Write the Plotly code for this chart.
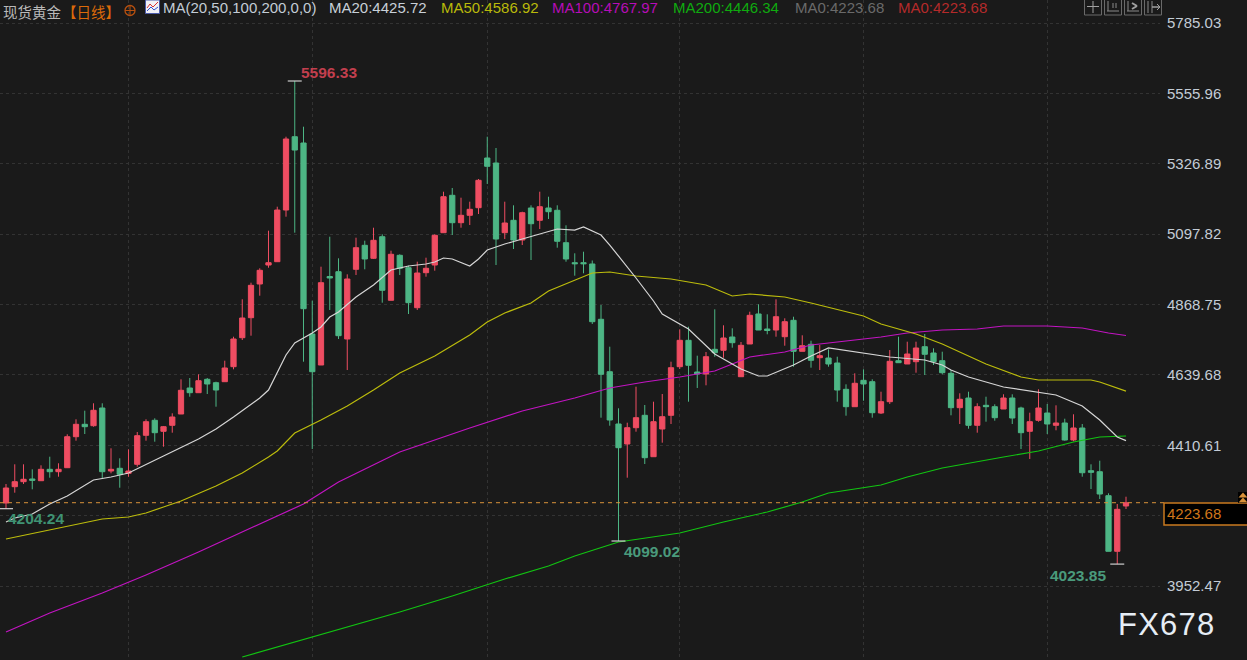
import plotly.graph_objects as go

opens = [4222.7,4275.8,4292.1,4300.9,4295.3,4332.4,4324.6,4337.6,4438.5,4478.9,
 4474.3,4532,4326.9,4335.7,4319.4,4348.7,4443.1,4491.9,4456.1,4475.6,
 4512.4,4597.1,4581.8,4625.4,4614.3,4617.6,4666.4,4760.8,4825.9,4935.6,
 4997.4,5008.2,5176.4,5415,5394.5,4772.8,4671.9,4960,4975.6,4756.6,
 4983.4,5061.5,5019.2,5089.5,4882.5,5029,4988.6,4858.4,4972.4,4997.4,
 5102.6,5224.3,5135.1,5159.2,5183.9,5345.7,5329.4,5102.6,5142.9,5078.8,
 5183,5142.9,5183,5175.5,5070,5004.9,5004.9,5000.7,4820.7,4650.1,
 4479.9,4414.8,4467.8,4508.2,4373.4,4463.6,4508.2,4666.4,4752.3,4649.1,
 4642.6,4723,4719.8,4763.1,4633.8,4740.3,4838,4789.1,4785.8,4764,
 4817.4,4716.5,4739.3,4695.7,4694.7,4678.4,4592.8,4536.2,4622.1,4617.6,
 4515.7,4552.5,4685.9,4675.2,4682.7,4731.5,4711,4685.9,4644.9,4533,
 4564.5,4475.6,4540.7,4536.2,4528.7,4564.5,4532,4456.1,4491.9,4515.7,
 4475.6,4483.1,4427.8,4466.9,4327.9,4324.6,4246.5,4065.5,4213]
closes = [4271.6,4292.1,4299.9,4296.6,4332.4,4324.6,4332.4,4438.5,4478.9,4471.1,
 4524.5,4324.6,4332.4,4316.2,4326.9,4441.8,4487.4,4451.6,4471.1,4502.7,
 4589.6,4581.8,4620.8,4610.1,4590.5,4662.2,4756.6,4824.9,4931.3,4980.2,
 5004.9,5176.4,5407.6,5371.7,4855.2,4650.1,4939.8,4955.1,4767.3,4951.9,
 5053.7,5017,5077.8,4915.1,5032.3,4986.7,4874.7,4971.4,4986.7,5094.1,
 5219.7,5135.1,5159.2,5178.7,5273.1,5318.7,5082,5134.1,5078.8,5167.7,
 5131.8,5187.2,5170.9,5074.6,5017,5001.6,5001.6,4812.9,4641.7,4492.9,
 4402.7,4467.8,4500.4,4370.2,4487.4,4503.6,4663.1,4752.3,4671,4642.6,
 4698.9,4712,4759.8,4744.5,4736,4833.7,4785.8,4784.2,4829.1,4812.9,
 4716.5,4734.7,4687.2,4702.2,4675.2,4590.5,4536.2,4612.4,4610.1,4516.7,
 4552.5,4684,4679.4,4707.7,4727.3,4706.8,4682.7,4646.9,4533,4560.3,
 4475.6,4536.2,4536.2,4500.4,4564.5,4499.4,4451.6,4487.4,4532,4479.9,
 4483.1,4427.8,4466.9,4321.3,4322.7,4252,4065.5,4202.2,4223.68]
highs = [4284.6,4348.7,4348.7,4332.4,4345.4,4373.4,4352,4446.4,4495.2,4523.2,
 4547.3,4547.3,4400.8,4368.2,4397.5,4453.8,4495.2,4498.4,4473.4,4514.7,
 4625.4,4629.6,4641.6,4629.6,4617.6,4685.9,4764,4885.8,4939.8,4986.7,
 5109.1,5187.2,5415,5596.33,5447.6,4881.2,4991.9,5089.5,5019.2,4967.1,
 5086.3,5076.5,5118.8,5097.4,5044,5032.3,4995.1,5008.2,5021.2,5097.4,
 5236,5248.1,5216.5,5203.5,5277.4,5415,5378.3,5203.5,5191.7,5170.9,
 5191.7,5236,5219.7,5191.7,5126.6,5035.5,5040.7,5012.1,4867.2,4731.5,
 4531,4484.1,4601.3,4541.7,4552.5,4577.5,4682.7,4788.1,4796.6,4702.2,
 4714.2,4853.2,4801.1,4791.4,4746.8,4845.4,4869.5,4837,4885.8,4823.9,
 4829.1,4768.6,4751,4737,4723,4698.9,4609.1,4644.9,4657.9,4625.4,
 4585,4720.7,4764,4747.8,4747.8,4772.8,4726.3,4715.2,4655.6,4579.8,
 4585,4547.3,4568.7,4544,4576.6,4576.6,4536.2,4516.7,4592.8,4545,
 4540.7,4497.1,4511.5,4479.9,4348.7,4360.4,4254.3,4219.5,4243.2]
lows = [4204.24,4256.3,4284.6,4267.3,4295.3,4305.1,4308.3,4337.6,4425.5,4447.3,
 4471.1,4303.1,4319.4,4272.5,4308.3,4340.9,4425.5,4422.3,4406,4451.6,
 4512.4,4568.7,4581.8,4577.5,4536.2,4617.6,4657.9,4753.3,4767.3,4897.5,
 4988.6,5008.2,5154.6,5102.6,4682.7,4398.5,4671.9,4851,4756.6,4655.6,
 4964.9,4983.4,5017,4874.7,4882.5,4964.9,4837.9,4851,4959.3,4978.9,
 5102.6,5095.1,5118.8,5127.6,5163.4,5261.1,4997.4,5082,5049.5,5062.5,
 5013.7,5114.6,5147.2,5053.7,5008.2,4962.6,4970.4,4805.4,4500.4,4474.3,
 4099.02,4305.1,4454.8,4349.7,4373.4,4419,4479.9,4658.9,4552.5,4597.1,
 4605.8,4698.9,4695.7,4728.2,4633.8,4740.3,4785.8,4771.9,4764,4734.7,
 4666.4,4716.5,4663.1,4655.6,4666.4,4552.5,4506.9,4536.2,4555.7,4500.4,
 4512.4,4545,4679.4,4675.2,4646.9,4639.4,4671.9,4641.6,4508.2,4479.9,
 4464.6,4451.6,4487.4,4490.6,4528.7,4479.9,4398.5,4366,4487.4,4447.3,
 4459.4,4425.5,4423.6,4308.3,4268.3,4235.8,4065.5,4023.85,4203.2]

ma20_x = [0,1,3,5,7,10,12,14,18,22,24,26,29,30,32,33,35,36,37,38,40,42,44,46,48,49,50,51,53,54,55,57,59,61,63,65,66,68,69,72,74,75,78,81,84,86,87,90,92,94,97,99,101,105,107,108,110,114,118,120,123,125,127,128]
ma20_y = [4160.9,4173.9,4186.9,4219.5,4245.5,4297.6,4307.4,4320.4,4375.7,4431.1,4463.6,4502.7,4564.5,4590.5,4704.5,4743.5,4776.1,4795.6,4828.2,4844.4,4893.3,4932.3,4981.1,4994.2,5000.7,5007.2,5020.2,5017,4994.2,5017,5046.2,5065.8,5082,5098.3,5114.6,5111.3,5121.1,5095.1,5062.5,4955.1,4880.2,4838,4789.1,4707.7,4658.9,4636.1,4636.1,4671.9,4701.2,4727.3,4714.2,4707.7,4698,4688.2,4671.9,4655.6,4632.9,4600.3,4584,4574.3,4538.5,4492.9,4437.6,4425.72]
ma50_x = [0,5,11,14,16,18,20,24,27,30,31,33,36,39,42,45,49,53,55,57,60,62,65,67,69,72,76,80,83,85,89,92,98,100,104,107,112,116,118,124,125,128]
ma50_y = [4105.6,4134.8,4170.7,4177.2,4190.2,4209.7,4229.2,4278.1,4320.4,4372.5,4392,4450.6,4492.9,4538.5,4590.5,4645.9,4701.2,4769.6,4811.9,4841.2,4873.7,4912.8,4948.6,4971.4,4974.6,4961.6,4951.9,4932.3,4896.5,4903,4893.3,4873.7,4831.4,4805.4,4772.8,4740.3,4675.2,4632.9,4623.1,4623.1,4616.6,4586.92]
ma100_x = [0,5,11,16,22,28,32,34,38,45,53,59,65,69,73,77,81,85,89,92,96,100,103,107,111,114,119,123,126,128]
ma100_y = [3802.8,3864.7,3929.8,3988.4,4063.2,4141.4,4193.4,4219.5,4291.1,4388.7,4466.9,4522.2,4564.5,4597.1,4616.6,4632.9,4652.4,4698,4714.2,4737,4750,4763.1,4776.1,4785.8,4789.1,4798.9,4798.9,4792.4,4776.1,4767.97]
ma200_x = [27,33,39,45,51,57,62,65,70,77,82,87,91,94,100,103,107,110,114,118,122,125,128]
ma200_y = [3721.5,3770.3,3819.1,3867.9,3920,3975.4,4017.7,4050.2,4095.8,4125.1,4160.9,4193.4,4226,4255.3,4281.3,4307.4,4336.7,4352.9,4372.5,4392,4421.3,4437.6,4440.8]

tick_vals = [5785.03,5555.96,5326.89,5097.82,4868.75,4639.68,4410.61,4181.54,3952.47]
tick_text = ["5785.03","5555.96","5326.89","5097.82","4868.75","4639.68","4410.61","","3952.47"]
month_ticks = [14,35,55,77,98,119]
last_price = 4223.68
extreme_idx = [33,0,70,127]

W, H, PW = 1247, 660, 1160
BG = "#1a1a1a"
SANS = "Liberation Sans, Arial, sans-serif"
CJK = "Noto Sans CJK SC, sans-serif"
RED = "#ef4d62"
GREEN = "#4db685"

px = lambda v: v / PW
py = lambda v: 1 - v / H

fig = go.Figure()
fig.add_trace(go.Candlestick(
    x=list(range(len(opens))), open=opens, high=highs, low=lows, close=closes,
    increasing=dict(line=dict(color=RED, width=1), fillcolor=RED),
    decreasing=dict(line=dict(color=GREEN, width=1), fillcolor=GREEN),
    whiskerwidth=0, showlegend=False,
))
for xs, ys, col in [(ma200_x, ma200_y, "#12c412"), (ma100_x, ma100_y, "#c214c2"),
                    (ma50_x, ma50_y, "#bcbc0c"), (ma20_x, ma20_y, "#d6d6d6")]:
    fig.add_trace(go.Scatter(x=xs, y=ys, mode="lines", line=dict(color=col, width=1.2),
                             showlegend=False))
ext_y = [highs[33], lows[0], lows[70], lows[127]]
fig.add_trace(go.Scatter(x=extreme_idx, y=ext_y, mode="markers", showlegend=False,
    marker=dict(symbol="line-ew", size=10, line=dict(color="#cfcfcf", width=1.2))))


def label(text, x, y, color, size=15, font=SANS, anchor="left"):
    fig.add_annotation(text=text, x=px(x - 2), y=py(y - 0.5), xref="paper", yref="paper",
                       xanchor=anchor, yanchor="middle", showarrow=False,
                       font=dict(family=font, size=size, color=color))


label("现货黄金", 3, 11.5, "#b9b9b9", 14.5, CJK)
label("【日线】", 62, 11.5, "#dc6a0a", 14.5, CJK)
label("MA(20,50,100,200,0,0)", 163, 8.5, "#c3ccd6")
label("MA20:4425.72", 329, 8.5, "#c8d0d8")
label("MA50:4586.92", 441, 8.5, "#b9b90a")
label("MA100:4767.97", 552, 8.5, "#b60db6")
label("MA200:4446.34", 673, 8.5, "#0faa0f")
label("MA0:4223.68", 795, 8.5, "#6a6a6a")
label("MA0:4223.68", 898, 8.5, "#b52a2a")
label("<b>5596.33</b>", 301, 72.5, "#c23f4e", 15.5)
label("<b>4204.24</b>", 8, 518.5, "#3f9273", 15.5)
label("<b>4099.02</b>", 624, 551.5, "#4a9a7c", 15.5)
label("<b>4023.85</b>", 1050, 575.5, "#4a9a7c", 15.5)
label("FX678", 1121, 624.5, "#e6edf5", 31)

shapes = []


def rect(x0, y0, x1, y1, line, fill=None, w=1):
    shapes.append(dict(type="rect", xref="paper", yref="paper", x0=px(x0), x1=px(x1),
                       y0=py(y0), y1=py(y1), line=dict(color=line, width=w),
                       fillcolor=fill or "rgba(0,0,0,0)", layer="above"))


def seg(x0, y0, x1, y1, color, w=1):
    shapes.append(dict(type="line", xref="paper", yref="paper", x0=px(x0), x1=px(x1),
                       y0=py(y0), y1=py(y1), line=dict(color=color, width=w), layer="above"))


def tri(x0, x1, ytop, ybot, color):
    xm = (x0 + x1) / 2
    path = f"M {px(x0)} {py(ybot)} L {px(xm)} {py(ytop)} L {px(x1)} {py(ybot)} Z"
    shapes.append(dict(type="path", xref="paper", yref="paper", path=path,
                       fillcolor=color, line=dict(color=color, width=0), layer="above"))


# last price line and box
shapes.append(dict(type="line", xref="paper", yref="y", x0=0, x1=px(1164), y0=last_price,
                   y1=last_price, line=dict(color="#d8923a", width=1, dash="4px,4px"), layer="above"))
rect(1164, 503, 1250, 525, "#c9791f", "#000000", 1.5)
label("4223.68", 1167, 514, "#d0761a")
rect(1238, 492, 1250, 503, "#000000", "#000000", 0)
tri(1238.5, 1247.5, 492.5, 497.5, "#d8923a")
tri(1238.5, 1247.5, 497.5, 502.5, "#d8923a")

# orange circle icon
shapes.append(dict(type="circle", xref="paper", yref="paper", x0=px(125), x1=px(135),
                   y0=py(5.5), y1=py(15.5), line=dict(color="#b8500f", width=1.3), layer="above"))
seg(125, 10.5, 135, 10.5, "#b8500f")
seg(130, 5.5, 130, 15.5, "#b8500f")

# MA icon
rect(145.5, 0, 159.5, 13.5, "#4a5aa8", "#f0f0f5", 1)
seg(147, 8, 150, 4, "#d83030")
seg(150, 4, 153, 7, "#d83030")
seg(153, 7, 158, 2, "#d83030")
seg(147, 11, 151, 7, "#3050d0")
seg(151, 7, 154, 10, "#3050d0")
seg(154, 10, 158, 7, "#3050d0")

# toolbar buttons
G = "#8a8a8a"
for x0 in (1084.5, 1104.5, 1124.5, 1144.5):
    rect(x0, -2, x0 + 17, 15, "#6a6a6a", "#1a1a1a", 1)
seg(1087, 6.5, 1099, 6.5, "#a0a0a0"); seg(1093, 1, 1093, 13, "#a0a0a0")
seg(1108, 1, 1108, 11, G); seg(1107, 11, 1119, 11, G); seg(1113, 3, 1113, 8, G); seg(1116, 3, 1116, 8, G)
seg(1128, 1, 1128, 11, G); seg(1127, 11, 1139, 11, G); seg(1132, 3, 1137, 6, "#a0a0a0", 2); seg(1132, 9, 1137, 6, "#a0a0a0", 2)
seg(1148, 1, 1148, 13, G); seg(1152, 1, 1152, 13, G); seg(1152, 7, 1160, 7, "#a0a0a0", 1.5); seg(1157, 4, 1160, 7, "#a0a0a0"); seg(1157, 10, 1160, 7, "#a0a0a0")

GRID = "#333333"
fig.update_layout(
    width=W, height=H, autosize=False,
    margin=dict(l=0, r=W - PW, t=0, b=0, pad=0),
    paper_bgcolor=BG, plot_bgcolor=BG,
    boxgap=0.4, boxgroupgap=0, showlegend=False, shapes=shapes, hovermode=False,
    xaxis=dict(range=[-6 / 8.75, (PW - 6) / 8.75], rangeslider=dict(visible=False),
               tickvals=month_ticks, showticklabels=False, ticks="", showgrid=True,
               gridcolor=GRID, griddash="dot", gridwidth=1, zeroline=False, showline=False),
    yaxis=dict(range=[5860 - 660 * 3.255, 5860], side="right", tickvals=tick_vals, ticktext=tick_text,
               showgrid=True, gridcolor=GRID, griddash="dot", gridwidth=1, zeroline=False,
               showline=False, ticks="", ticklabelstandoff=6,
               tickfont=dict(family=SANS, size=15, color="#c3ccd6")),
)
post = ("document.documentElement.style.margin='0';document.body.style.margin='0';"
        "document.body.style.background='" + BG + "';document.body.style.overflow='hidden';"
        "document.querySelectorAll('.annotation-text').forEach(function(t){"
        "if(t.textContent==='FX678'){t.style.letterSpacing='1.2px';}});")
fig.write_html("out.html", config={"displayModeBar": False}, post_script=post)
